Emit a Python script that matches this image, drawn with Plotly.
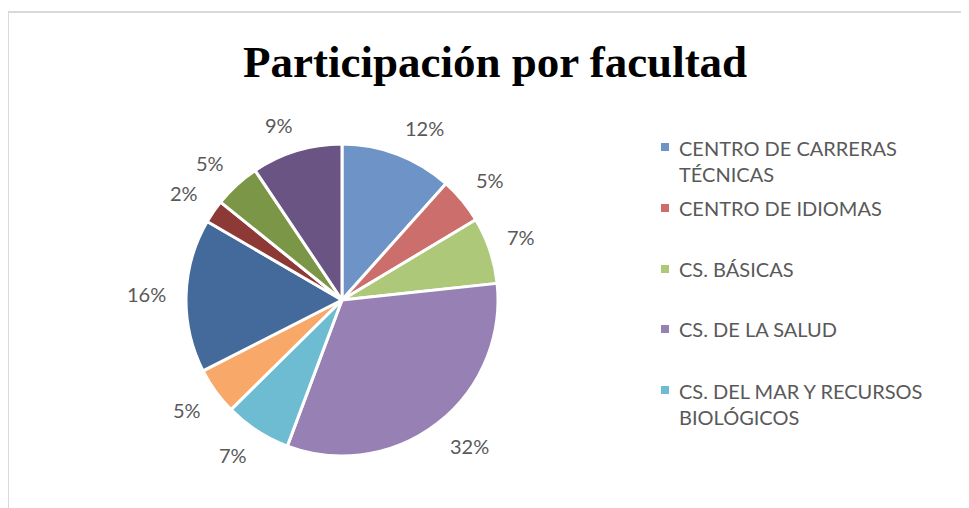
import math
import plotly.graph_objects as go

W, H = 969, 508
OFF = 8  # page offset of the figure inside the browser window

title_text = "Participación por facultad"
categories = [
    "CENTRO DE CARRERAS TÉCNICAS",
    "CENTRO DE IDIOMAS",
    "CS. BÁSICAS",
    "CS. DE LA SALUD",
    "CS. DEL MAR Y RECURSOS BIOLÓGICOS",
    "Facultad 6",
    "Facultad 7",
    "Facultad 8",
    "Facultad 9",
    "Facultad 10",
]
# shares (%); labels show them rounded
shares = [11.6, 4.8, 6.9, 32.4, 6.9, 4.9, 15.9, 2.4, 4.8, 9.4]
colors = ["#6D93C7", "#CC6E6B", "#ADC878", "#9780B4", "#6DBCD1",
          "#F8A96A", "#44699B", "#8D3A37", "#7B9646", "#6A5484"]
legend_labels = [
    "CENTRO DE CARRERAS<br>TÉCNICAS",
    "CENTRO DE IDIOMAS",
    "CS. BÁSICAS",
    "CS. DE LA SALUD",
    "CS. DEL MAR Y RECURSOS<br>BIOLÓGICOS",
]

def px_x(x):
    return (x - OFF) / W

def px_y(y):
    return 1 - (y - OFF) / H

cx, cy, r = 342, 300, 156

fig = go.Figure()
fig.add_trace(go.Pie(
    labels=categories,
    values=shares,
    sort=False,
    direction="clockwise",
    rotation=0,
    marker=dict(colors=colors, line=dict(color="white", width=3)),
    textinfo="none",
    showlegend=False,
    domain=dict(x=[px_x(cx - r), px_x(cx + r)], y=[px_y(cy + r), px_y(cy - r)]),
    hoverinfo="label+percent",
))

shapes = [dict(type="rect", xref="paper", yref="paper",
               x0=px_x(8), x1=px_x(W + 20), y0=px_y(H + 20), y1=px_y(12),
               line=dict(color="#D9D9D9", width=2), fillcolor="rgba(0,0,0,0)")]
annotations = [dict(text="<b>" + title_text + "</b>", x=px_x(495), y=px_y(62),
                    xref="paper", yref="paper", showarrow=False,
                    xanchor="center", yanchor="middle",
                    font=dict(family="Liberation Serif", size=45, color="#000000"))]

# percentage labels placed outside each slice (Excel "outside end" style)
total = sum(shares)
cum = 0.0
d, half_h = r + 19, 8
clip = lambda t: max(-1.0, min(1.0, t))
for v in shares:
    mid = (cum + v / 2) / total * 2 * math.pi
    cum += v
    txt = f"{round(v / total * 100)}%"
    half_w = 6.7 * len(txt)
    s, c = math.sin(mid), -math.cos(mid)
    lx = cx + d * s + half_w * clip(3 * s)
    ly = cy + d * c + half_h * clip(3 * c)
    annotations.append(dict(text=txt, x=px_x(lx), y=px_y(ly),
                            xref="paper", yref="paper", showarrow=False,
                            xanchor="center", yanchor="middle",
                            font=dict(family="Lato", size=20, color="#595959")))

leg_y = [147, 208, 269, 329, 390]
for i, lab in enumerate(legend_labels):
    y = leg_y[i]
    nlines = lab.count("<br>") + 1
    shapes.append(dict(type="rect", xref="paper", yref="paper",
                       x0=px_x(661), x1=px_x(669), y0=px_y(y + 4), y1=px_y(y - 4),
                       line=dict(width=0), fillcolor=colors[i]))
    annotations.append(dict(text=lab, x=px_x(677), y=px_y(y + (nlines - 1) * 14),
                            xref="paper", yref="paper", showarrow=False,
                            xanchor="left", yanchor="middle", align="left",
                            font=dict(family="Lato", size=20, color="#595959")))

fig.update_layout(
    width=W, height=H,
    margin=dict(l=0, r=0, t=0, b=0),
    paper_bgcolor="white",
    plot_bgcolor="white",
    shapes=shapes,
    annotations=annotations,
)
fig.write_html("out.html")
